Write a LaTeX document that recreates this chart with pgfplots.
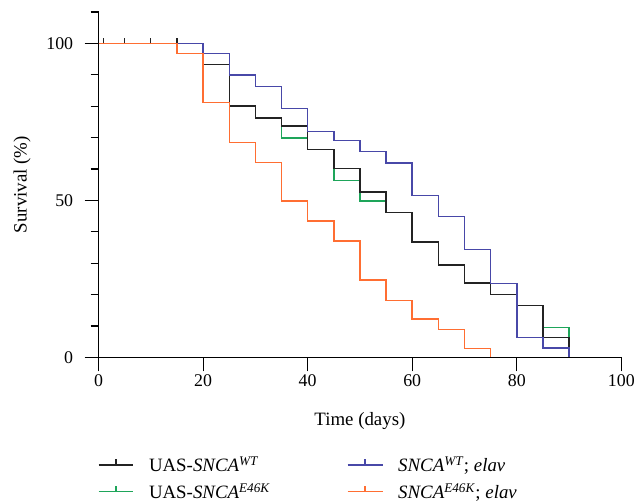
\documentclass[border=0pt]{standalone}
\usepackage{pgfplots}
\pgfplotsset{compat=1.18}
\usepackage{fontspec}
\setmainfont{Liberation Serif}

\definecolor{cblack}{RGB}{35,35,35}
\definecolor{cgreen}{RGB}{30,165,90}
\definecolor{cblue}{RGB}{72,72,168}
\definecolor{corange}{RGB}{255,110,50}

\pgfdeclareplotmark{uptick}{%
  \pgfpathmoveto{\pgfpoint{0pt}{0pt}}%
  \pgfpathlineto{\pgfpoint{0pt}{5bp}}%
  \pgfusepathqstroke}

\begin{document}
\begin{tikzpicture}
\begin{axis}[
    scale only axis,
    width=525bp, height=347bp,
    xmin=0, xmax=100, ymin=0, ymax=110,
    axis lines=left,
    axis line style={line width=1.2bp, -},
    xtick={0,20,...,100},
    ytick={0,50,100},
    minor ytick={10,20,30,40,60,70,80,90,110},
    tick align=outside,
    major tick length=14bp,
    minor tick length=8bp,
    tick style={line width=1.2bp, black},
    tick label style={font=\fontsize{18}{21}\selectfont},
    yticklabel style={xshift=-8bp},
    label style={font=\fontsize{19}{22}\selectfont},
    /pgf/number format/assume math mode=true,
    xlabel={Time (days)},
    ylabel={Survival (\%)},
    xlabel style={yshift=-19bp},
    ylabel style={yshift=9bp},
    clip=false,
    legend columns=2,
    legend cell align=left,
    legend style={draw=none, fill=none, at={(0,-0.276)}, anchor=north west,
        xshift=-4bp,
        font=\fontsize{19}{22}\selectfont, row sep=6bp,
        /tikz/every odd column/.append style={column sep=13bp},
        /tikz/every even column/.append style={column sep=75bp}},
    legend image code/.code={%
        \draw[#1, line width=1.5bp] (0bp,0bp) -- (35bp,0bp);
        \draw[#1, line width=1.5bp] (17.5bp,0bp) -- (17.5bp,6bp);},
    every axis plot/.append style={line width=1.5bp, const plot, mark=none},
]

\addplot[cgreen, forget plot] coordinates {
    (0,100) (20,96.7) (25,80) (30,76.3) (35,69.8) (40,66.2) (45,56.3)
    (50,49.8) (55,46.2) (60,36.7) (65,29.4) (70,23.7) (75,20) (80,16.6)
    (85,9.6) (90,0)
};
\addplot[cblack, forget plot] coordinates {
    (0,100) (20,93.2) (25,80) (30,76.3) (35,73.7) (40,66.2) (45,60.1)
    (50,52.7) (55,46.2) (60,36.7) (65,29.4) (70,23.7) (75,20) (80,16.6)
    (85,6.4) (90,0)
};
\addplot[cblue, forget plot] coordinates {
    (0,100) (20,96.7) (25,89.9) (30,86.2) (35,79.2) (40,72) (45,69)
    (50,65.5) (55,61.9) (60,51.6) (65,44.8) (70,34.3) (75,23.5) (80,6.4)
    (85,3) (90,0)
};
\addplot[corange, forget plot] coordinates {
    (0,100) (15,96.7) (20,81.2) (25,68.5) (30,62.1) (35,49.8) (40,43.5)
    (45,37.1) (50,24.7) (55,18.1) (60,12.2) (65,8.9) (70,2.8) (75,0)
};
% censored
\addplot[cblack, only marks, mark=uptick, line width=1.1bp, forget plot] coordinates {
    (1,100) (5,100) (10,100) (15,100)
};

\addlegendimage{cblack}
\addlegendentry{UAS-\textit{SNCA}\textsuperscript{\textit{WT}}}
\addlegendimage{cblue}
\addlegendentry{\textit{SNCA}\textsuperscript{\textit{WT}}; \textit{elav}}
\addlegendimage{cgreen}
\addlegendentry{UAS-\textit{SNCA}\textsuperscript{\textit{E46K}}}
\addlegendimage{corange}
\addlegendentry{\textit{SNCA}\textsuperscript{\textit{E46K}}; \textit{elav}}

\path (axis description cs:0,1) -- ++(0,12bp);
\path (axis description cs:0,0) -- ++(-99bp,0);
\end{axis}
\end{tikzpicture}
\end{document}
